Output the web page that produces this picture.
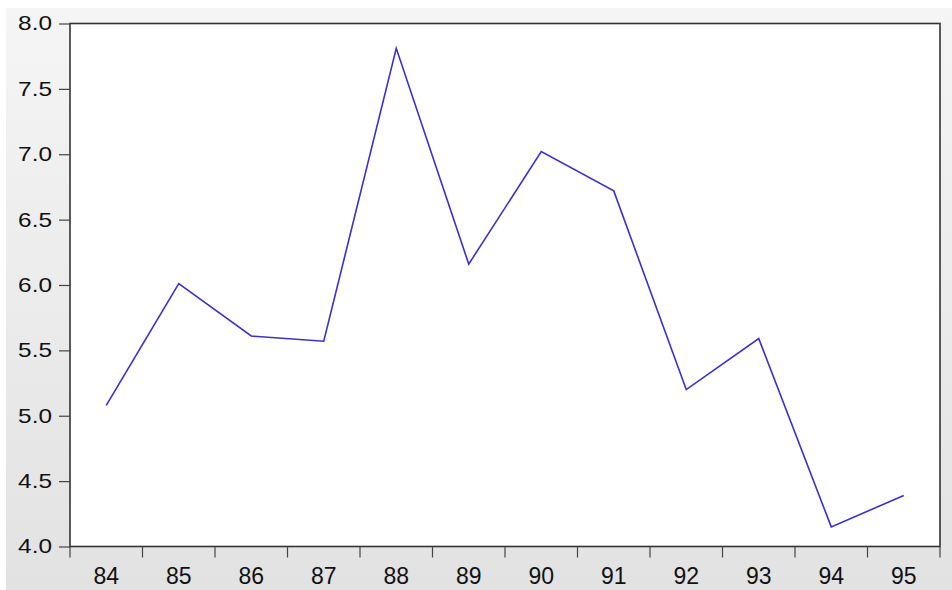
<!DOCTYPE html>
<html>
<head>
<meta charset="utf-8">
<script src="https://cdn.jsdelivr.net/npm/d3@7"></script>
<style>
  body { margin: 0; background: #fff; }
  svg { display: block; font-family: "Liberation Sans", Arial, sans-serif; }
</style>
</head>
<body>
<div id="chart"></div>
<script>
const years = ["84", "85", "86", "87", "88", "89", "90", "91", "92", "93", "94", "95"];
const values = [5.08, 6.01, 5.61, 5.57, 7.81, 6.16, 7.02, 6.72, 5.2, 5.59, 4.15, 4.39];
const yTicks = [4.0, 4.5, 5.0, 5.5, 6.0, 6.5, 7.0, 7.5, 8.0];

const width = 952;
const height = 590;
const margin = { top: 23.5, right: 12, bottom: 43.5, left: 70 };
const labelStretch = 1.22;

const svg = d3
  .select("#chart")
  .append("svg")
  .attr("width", width)
  .attr("height", height);

const defs = svg.append("defs");
const grad = defs
  .append("linearGradient")
  .attr("id", "bg")
  .attr("x1", 0)
  .attr("y1", 0)
  .attr("x2", 0)
  .attr("y2", 1);
grad.append("stop").attr("offset", "0%").attr("stop-color", "#f5f5f5");
grad.append("stop").attr("offset", "100%").attr("stop-color", "#e2e2e2");

svg
  .append("rect")
  .attr("x", 6)
  .attr("y", 8)
  .attr("width", width - 6)
  .attr("height", height - 8)
  .attr("fill", "url(#bg)");

const xBand = d3
  .scaleBand()
  .domain(years)
  .range([margin.left, width - margin.right]);

const yScale = d3
  .scaleLinear()
  .domain([4, 8])
  .range([height - margin.bottom, margin.top]);

// plot area
svg
  .append("rect")
  .attr("x", margin.left)
  .attr("y", margin.top)
  .attr("width", width - margin.left - margin.right)
  .attr("height", height - margin.top - margin.bottom)
  .attr("fill", "#fff")
  .attr("stroke", "#333")
  .attr("stroke-width", 1.6);

// y axis
const yAxis = svg
  .append("g")
  .attr("transform", `translate(${margin.left}, 0)`)
  .call(
    d3
      .axisLeft(yScale)
      .tickValues(yTicks)
      .tickFormat(d3.format(".1f"))
      .tickSize(11)
  );
yAxis.select(".domain").remove();
yAxis.selectAll("line").attr("stroke", "#444").attr("stroke-width", 1.2);
yAxis
  .selectAll("text")
  .attr("x", -18 / labelStretch)
  .attr("transform", `scale(${labelStretch}, 1)`)
  .style("font-size", "20px")
  .attr("fill", "#111");

// x axis: ticks at band edges, labels at band centres
const xEdges = years.map((d) => xBand(d)).concat([width - margin.right]);
const xAxis = svg
  .append("g")
  .attr("transform", `translate(0, ${height - margin.bottom})`);
xAxis
  .selectAll("line")
  .data(xEdges)
  .join("line")
  .attr("x1", (d) => d)
  .attr("x2", (d) => d)
  .attr("y1", 0)
  .attr("y2", 11)
  .attr("stroke", "#444")
  .attr("stroke-width", 1.2);
xAxis
  .selectAll("text")
  .data(years)
  .join("text")
  .attr("x", (d) => xBand(d) + xBand.bandwidth() / 2)
  .attr("y", 37)
  .attr("text-anchor", "middle")
  .style("font-size", "23px")
  .attr("fill", "#111")
  .text((d) => d);

// series line
const line = d3
  .line()
  .x((d, i) => xBand(years[i]) + xBand.bandwidth() / 2)
  .y((d) => yScale(d));

svg
  .append("path")
  .datum(values)
  .attr("d", line)
  .attr("fill", "none")
  .attr("stroke", "#3a30d0")
  .attr("stroke-width", 1.6)
  .attr("stroke-linejoin", "miter");
</script>
</body>
</html>
